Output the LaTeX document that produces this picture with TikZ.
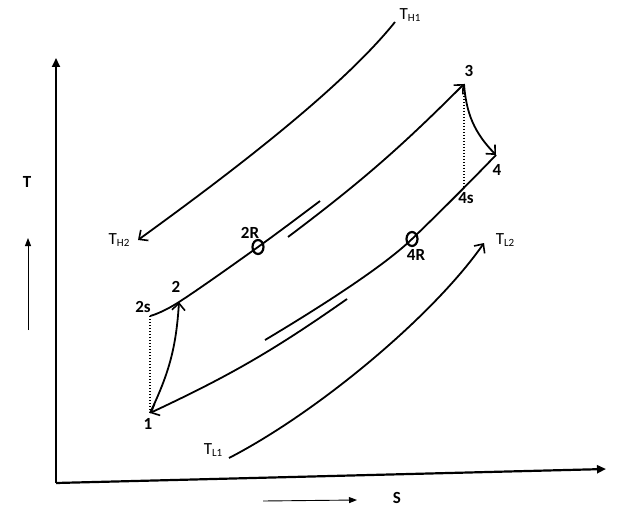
\documentclass[tikz,border=0pt]{standalone}
\usepackage{fontspec}
\setmainfont{Carlito}
\usetikzlibrary{arrows.meta,shapes.geometric}
\begin{document}
\begin{tikzpicture}[x=1pt,y=-1pt,
  curve/.style={line width=1.8pt,-{Straight Barb[length=7pt,width=13pt,line width=1.6pt]}},
  plain/.style={line width=1.8pt},
  axis/.style={line width=2.2pt,-{Triangle[length=9pt,width=8pt]}},
  small/.style={line width=0.9pt,-{Triangle[length=8pt,width=6pt]}},
  lab/.style={font=\fontsize{17}{17}\selectfont\bfseries,inner sep=0pt},
  tlab/.style={font=\fontsize{17}{17}\selectfont,inner sep=0pt},
  dots/.style={line width=1.4pt,dash pattern=on 1.2pt off 1.8pt},
  ring/.style={draw,ellipse,line width=2.2pt,minimum width=11pt,minimum height=14pt,inner sep=0pt}]
\useasboundingbox (0,0) rectangle (628,521);
% axes
\coordinate (o) at (56,483);
\coordinate (ytop) at (56,58);
\coordinate (xend) at (606,469);
\draw[axis] (o) -- (ytop);
\draw[axis] (o) -- (xend);
% axis hints
\coordinate (ta) at (28,330);
\coordinate (tb) at (28,238);
\draw[small] (ta) -- (tb);
\node[lab] (T) at (27,182) {T};
\coordinate (sa) at (263,501);
\coordinate (sb) at (357,500);
\draw[small] (sa) -- (sb);
\node[lab] (S) at (397,498) {S};
% state points
\coordinate (p1) at (150,413);
\coordinate (p2s) at (150,316);
\coordinate (p2) at (179,302);
\coordinate (p2R) at (258,247);
\coordinate (aend) at (320,201);
\coordinate (bstart) at (288,237);
\coordinate (p3) at (464,84);
\coordinate (p4) at (496,155);
\coordinate (p4s) at (464,188);
\coordinate (p4R) at (412,239);
\coordinate (cend) at (265,340);
\coordinate (dstart) at (347,299);
% cycle
\draw[plain] plot[smooth,tension=0.6] coordinates {(p2s) (p2) (p2R) (aend)};
\draw[curve] (bstart) to[bend right=4] (p3);
\draw[plain] (p4) .. controls (472,180) and (440,212) .. (p4R)
   .. controls (384,266) and (322,306) .. (cend);
\draw[curve] (dstart) to[bend left=5] (p1);
\draw[curve] (p1) to[bend right=11] (p2);
\draw[curve] (p3) to[bend right=20] (p4);
\draw[dots] (p2s) -- (p1);
\draw[dots] (p3) -- (p4s);
\node[ring] (r2R) at (p2R) {};
\node[ring] (r4R) at (p4R) {};
% labels
\node[lab] (l1) at (148,424) {1};
\node[lab] (l2s) at (143,307) {2s};
\node[lab] (l2) at (176,287) {2};
\node[lab] (l2R) at (250,233) {2R};
\node[lab] (l3) at (469,71) {3};
\node[lab] (l4) at (497,170) {4};
\node[lab] (l4s) at (466,198) {4s};
\node[lab] (l4R) at (416,255) {4R};
% source / sink streams
\coordinate (th1) at (395,22);
\coordinate (th2) at (138,240);
\draw[curve] (th1) .. controls (342,88) and (232,172) .. (th2);
\coordinate (tl1) at (229,458);
\coordinate (tl2) at (484,243);
\draw[curve] (tl1) .. controls (318,412) and (433,316) .. (tl2);
\node[tlab] (TH1) at (410,15) {T{\fontsize{11}{11}\selectfont\raisebox{-2pt}{H1}}};
\node[tlab] (TH2) at (119,240) {T{\fontsize{11}{11}\selectfont\raisebox{-2pt}{H2}}};
\node[tlab] (TL1) at (213,450) {T{\fontsize{11}{11}\selectfont\raisebox{-2pt}{L1}}};
\node[tlab] (TL2) at (505,240) {T{\fontsize{11}{11}\selectfont\raisebox{-2pt}{L2}}};
\end{tikzpicture}
\end{document}
